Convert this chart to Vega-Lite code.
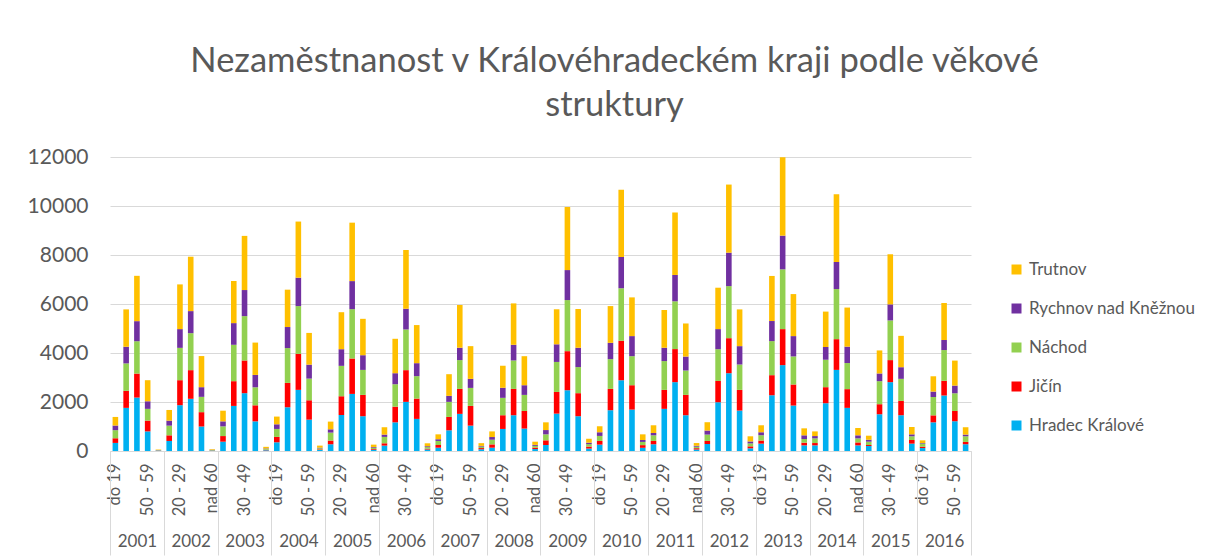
{
  "$schema": "https://vega.github.io/schema/vega-lite/v6.json",
  "autosize": "none",
  "width": 861,
  "height": 294,
  "padding": {"left": 110, "top": 157, "right": 235, "bottom": 107},
  "background": "white",
  "title": {
    "text": ["Nezaměstnanost v Královéhradeckém kraji podle věkové", "struktury"],
    "font": "Lato",
    "fontSize": 34.5,
    "fontWeight": "normal",
    "color": "#595959",
    "anchor": "middle",
    "dx": 74,
    "offset": 23,
    "lineHeight": 44
  },
  "config": {
    "font": "Lato",
    "view": {"stroke": null}
  },
  "data": {
    "values": [
      {"year":"2001","age":"do 19","cat":"2001|do 19","Hradec Králové":330,"Jičín":190,"Náchod":330,"Rychnov nad Kněžnou":190,"Trutnov":350},
      {"year":"2001","age":"20 - 29","cat":"2001|20 - 29","Hradec Králové":1760,"Jičín":695,"Náchod":1120,"Rychnov nad Kněžnou":680,"Trutnov":1525},
      {"year":"2001","age":"30 - 49","cat":"2001|30 - 49","Hradec Králové":2180,"Jičín":980,"Náchod":1320,"Rychnov nad Kněžnou":820,"Trutnov":1850},
      {"year":"2001","age":"50 - 59","cat":"2001|50 - 59","Hradec Králové":800,"Jičín":440,"Náchod":480,"Rychnov nad Kněžnou":310,"Trutnov":860},
      {"year":"2001","age":"nad 60","cat":"2001|nad 60","Hradec Králové":15,"Jičín":8,"Náchod":12,"Rychnov nad Kněžnou":5,"Trutnov":20},
      {"year":"2002","age":"do 19","cat":"2002|do 19","Hradec Králové":410,"Jičín":230,"Náchod":395,"Rychnov nad Kněžnou":205,"Trutnov":435},
      {"year":"2002","age":"20 - 29","cat":"2002|20 - 29","Hradec Králové":1870,"Jičín":1020,"Náchod":1320,"Rychnov nad Kněžnou":765,"Trutnov":1825},
      {"year":"2002","age":"30 - 49","cat":"2002|30 - 49","Hradec Králové":2130,"Jičín":1170,"Náchod":1510,"Rychnov nad Kněžnou":900,"Trutnov":2220},
      {"year":"2002","age":"50 - 59","cat":"2002|50 - 59","Hradec Králové":1000,"Jičín":585,"Náchod":625,"Rychnov nad Kněžnou":395,"Trutnov":1270},
      {"year":"2002","age":"nad 60","cat":"2002|nad 60","Hradec Králové":18,"Jičín":10,"Náchod":15,"Rychnov nad Kněžnou":7,"Trutnov":25},
      {"year":"2003","age":"do 19","cat":"2003|do 19","Hradec Králové":380,"Jičín":230,"Náchod":395,"Rychnov nad Kněžnou":205,"Trutnov":435},
      {"year":"2003","age":"20 - 29","cat":"2003|20 - 29","Hradec Králové":1840,"Jičín":1010,"Náchod":1485,"Rychnov nad Kněžnou":885,"Trutnov":1720},
      {"year":"2003","age":"30 - 49","cat":"2003|30 - 49","Hradec Králové":2360,"Jičín":1335,"Náchod":1810,"Rychnov nad Kněžnou":1065,"Trutnov":2210},
      {"year":"2003","age":"50 - 59","cat":"2003|50 - 59","Hradec Králové":1210,"Jičín":655,"Náchod":735,"Rychnov nad Kněžnou":505,"Trutnov":1320},
      {"year":"2003","age":"nad 60","cat":"2003|nad 60","Hradec Králové":30,"Jičín":20,"Náchod":35,"Rychnov nad Kněžnou":20,"Trutnov":65},
      {"year":"2004","age":"do 19","cat":"2004|do 19","Hradec Králové":355,"Jičín":220,"Náchod":325,"Rychnov nad Kněžnou":190,"Trutnov":315},
      {"year":"2004","age":"20 - 29","cat":"2004|20 - 29","Hradec Králové":1785,"Jičín":995,"Náchod":1420,"Rychnov nad Kněžnou":860,"Trutnov":1525},
      {"year":"2004","age":"30 - 49","cat":"2004|30 - 49","Hradec Králové":2495,"Jičín":1470,"Náchod":1950,"Rychnov nad Kněžnou":1160,"Trutnov":2290},
      {"year":"2004","age":"50 - 59","cat":"2004|50 - 59","Hradec Králové":1280,"Jičín":790,"Náchod":885,"Rychnov nad Kněžnou":570,"Trutnov":1295},
      {"year":"2004","age":"nad 60","cat":"2004|nad 60","Hradec Králové":40,"Jičín":25,"Náchod":45,"Rychnov nad Kněžnou":25,"Trutnov":85},
      {"year":"2005","age":"do 19","cat":"2005|do 19","Hradec Králové":275,"Jičín":150,"Náchod":325,"Rychnov nad Kněžnou":135,"Trutnov":315},
      {"year":"2005","age":"20 - 29","cat":"2005|20 - 29","Hradec Králové":1470,"Jičín":765,"Náchod":1240,"Rychnov nad Kněžnou":680,"Trutnov":1510},
      {"year":"2005","age":"30 - 49","cat":"2005|30 - 49","Hradec Králové":2330,"Jičín":1445,"Náchod":2015,"Rychnov nad Kněžnou":1145,"Trutnov":2385},
      {"year":"2005","age":"50 - 59","cat":"2005|50 - 59","Hradec Králové":1420,"Jičín":870,"Náchod":1020,"Rychnov nad Kněžnou":600,"Trutnov":1485},
      {"year":"2005","age":"nad 60","cat":"2005|nad 60","Hradec Králové":50,"Jičín":30,"Náchod":55,"Rychnov nad Kněžnou":30,"Trutnov":95},
      {"year":"2006","age":"do 19","cat":"2006|do 19","Hradec Králové":220,"Jičín":95,"Náchod":260,"Rychnov nad Kněžnou":95,"Trutnov":300},
      {"year":"2006","age":"20 - 29","cat":"2006|20 - 29","Hradec Králové":1170,"Jičín":640,"Náchod":915,"Rychnov nad Kněžnou":450,"Trutnov":1405},
      {"year":"2006","age":"30 - 49","cat":"2006|30 - 49","Hradec Králové":2005,"Jičín":1295,"Náchod":1660,"Rychnov nad Kněžnou":845,"Trutnov":2400},
      {"year":"2006","age":"50 - 59","cat":"2006|50 - 59","Hradec Králové":1310,"Jičín":830,"Náchod":915,"Rychnov nad Kněžnou":530,"Trutnov":1555},
      {"year":"2006","age":"nad 60","cat":"2006|nad 60","Hradec Králové":60,"Jičín":35,"Náchod":65,"Rychnov nad Kněžnou":35,"Trutnov":120},
      {"year":"2007","age":"do 19","cat":"2007|do 19","Hradec Králové":135,"Jičín":110,"Náchod":165,"Rychnov nad Kněžnou":70,"Trutnov":200},
      {"year":"2007","age":"20 - 29","cat":"2007|20 - 29","Hradec Králové":845,"Jičín":545,"Náchod":615,"Rychnov nad Kněžnou":245,"Trutnov":885},
      {"year":"2007","age":"30 - 49","cat":"2007|30 - 49","Hradec Králové":1515,"Jičín":1020,"Náchod":1175,"Rychnov nad Kněžnou":505,"Trutnov":1745},
      {"year":"2007","age":"50 - 59","cat":"2007|50 - 59","Hradec Králové":1035,"Jičín":805,"Náchod":735,"Rychnov nad Kněžnou":370,"Trutnov":1335},
      {"year":"2007","age":"nad 60","cat":"2007|nad 60","Hradec Králové":70,"Jičín":50,"Náchod":60,"Rychnov nad Kněžnou":30,"Trutnov":110},
      {"year":"2008","age":"do 19","cat":"2008|do 19","Hradec Králové":135,"Jičín":135,"Náchod":190,"Rychnov nad Kněžnou":110,"Trutnov":230},
      {"year":"2008","age":"20 - 29","cat":"2008|20 - 29","Hradec Králové":900,"Jičín":560,"Náchod":710,"Rychnov nad Kněžnou":410,"Trutnov":900},
      {"year":"2008","age":"30 - 49","cat":"2008|30 - 49","Hradec Králové":1460,"Jičín":1075,"Náchod":1160,"Rychnov nad Kněžnou":640,"Trutnov":1690},
      {"year":"2008","age":"50 - 59","cat":"2008|50 - 59","Hradec Králové":915,"Jičín":720,"Náchod":655,"Rychnov nad Kněžnou":395,"Trutnov":1185},
      {"year":"2008","age":"nad 60","cat":"2008|nad 60","Hradec Králové":80,"Jičín":60,"Náchod":70,"Rychnov nad Kněžnou":40,"Trutnov":130},
      {"year":"2009","age":"do 19","cat":"2009|do 19","Hradec Králové":245,"Jičín":190,"Náchod":245,"Rychnov nad Kněžnou":175,"Trutnov":315},
      {"year":"2009","age":"20 - 29","cat":"2009|20 - 29","Hradec Králové":1525,"Jičín":885,"Náchod":1225,"Rychnov nad Kněžnou":720,"Trutnov":1430},
      {"year":"2009","age":"30 - 49","cat":"2009|30 - 49","Hradec Králové":2480,"Jičín":1595,"Náchod":2085,"Rychnov nad Kněžnou":1225,"Trutnov":2575},
      {"year":"2009","age":"50 - 59","cat":"2009|50 - 59","Hradec Králové":1420,"Jičín":940,"Náchod":1065,"Rychnov nad Kněžnou":790,"Trutnov":1580},
      {"year":"2009","age":"nad 60","cat":"2009|nad 60","Hradec Králové":100,"Jičín":80,"Náchod":100,"Rychnov nad Kněžnou":60,"Trutnov":160},
      {"year":"2010","age":"do 19","cat":"2010|do 19","Hradec Králové":260,"Jičín":150,"Náchod":205,"Rychnov nad Kněžnou":150,"Trutnov":245},
      {"year":"2010","age":"20 - 29","cat":"2010|20 - 29","Hradec Králové":1665,"Jičín":870,"Náchod":1215,"Rychnov nad Kněžnou":665,"Trutnov":1500},
      {"year":"2010","age":"30 - 49","cat":"2010|30 - 49","Hradec Králové":2890,"Jičín":1610,"Náchod":2140,"Rychnov nad Kněžnou":1280,"Trutnov":2740},
      {"year":"2010","age":"50 - 59","cat":"2010|50 - 59","Hradec Králové":1690,"Jičín":995,"Náchod":1185,"Rychnov nad Kněžnou":820,"Trutnov":1580},
      {"year":"2010","age":"nad 60","cat":"2010|nad 60","Hradec Králové":130,"Jičín":110,"Náchod":130,"Rychnov nad Kněžnou":80,"Trutnov":230},
      {"year":"2011","age":"do 19","cat":"2011|do 19","Hradec Králové":275,"Jičín":135,"Náchod":230,"Rychnov nad Kněžnou":95,"Trutnov":315},
      {"year":"2011","age":"20 - 29","cat":"2011|20 - 29","Hradec Králové":1720,"Jičín":775,"Náchod":1175,"Rychnov nad Kněžnou":545,"Trutnov":1540},
      {"year":"2011","age":"30 - 49","cat":"2011|30 - 49","Hradec Králové":2810,"Jičín":1350,"Náchod":1950,"Rychnov nad Kněžnou":1075,"Trutnov":2550},
      {"year":"2011","age":"50 - 59","cat":"2011|50 - 59","Hradec Králové":1460,"Jičín":830,"Náchod":995,"Rychnov nad Kněžnou":570,"Trutnov":1350},
      {"year":"2011","age":"nad 60","cat":"2011|nad 60","Hradec Králové":60,"Jičín":55,"Náchod":60,"Rychnov nad Kněžnou":40,"Trutnov":110},
      {"year":"2012","age":"do 19","cat":"2012|do 19","Hradec Králové":285,"Jičín":125,"Náchod":260,"Rychnov nad Kněžnou":165,"Trutnov":340},
      {"year":"2012","age":"20 - 29","cat":"2012|20 - 29","Hradec Králové":1990,"Jičín":870,"Náchod":1295,"Rychnov nad Kněžnou":820,"Trutnov":1690},
      {"year":"2012","age":"30 - 49","cat":"2012|30 - 49","Hradec Králové":3175,"Jičín":1430,"Náchod":2125,"Rychnov nad Kněžnou":1365,"Trutnov":2780},
      {"year":"2012","age":"50 - 59","cat":"2012|50 - 59","Hradec Králové":1650,"Jičín":845,"Náchod":1035,"Rychnov nad Kněžnou":750,"Trutnov":1500},
      {"year":"2012","age":"nad 60","cat":"2012|nad 60","Hradec Králové":110,"Jičín":80,"Náchod":120,"Rychnov nad Kněžnou":80,"Trutnov":210},
      {"year":"2013","age":"do 19","cat":"2013|do 19","Hradec Králové":300,"Jičín":125,"Náchod":220,"Rychnov nad Kněžnou":120,"Trutnov":285},
      {"year":"2013","age":"20 - 29","cat":"2013|20 - 29","Hradec Králové":2275,"Jičín":820,"Náchod":1390,"Rychnov nad Kněžnou":820,"Trutnov":1840},
      {"year":"2013","age":"30 - 49","cat":"2013|30 - 49","Hradec Králové":3505,"Jičín":1470,"Náchod":2440,"Rychnov nad Kněžnou":1375,"Trutnov":3200},
      {"year":"2013","age":"50 - 59","cat":"2013|50 - 59","Hradec Králové":1855,"Jičín":860,"Náchod":1145,"Rychnov nad Kněžnou":830,"Trutnov":1715},
      {"year":"2013","age":"nad 60","cat":"2013|nad 60","Hradec Králové":230,"Jičín":110,"Náchod":150,"Rychnov nad Kněžnou":150,"Trutnov":285},
      {"year":"2014","age":"do 19","cat":"2014|do 19","Hradec Králové":230,"Jičín":95,"Náchod":190,"Rychnov nad Kněžnou":95,"Trutnov":190},
      {"year":"2014","age":"20 - 29","cat":"2014|20 - 29","Hradec Králové":1950,"Jičín":655,"Náchod":1120,"Rychnov nad Kněžnou":520,"Trutnov":1445},
      {"year":"2014","age":"30 - 49","cat":"2014|30 - 49","Hradec Králové":3310,"Jičín":1255,"Náchod":2045,"Rychnov nad Kněžnou":1105,"Trutnov":2765},
      {"year":"2014","age":"50 - 59","cat":"2014|50 - 59","Hradec Králové":1760,"Jičín":765,"Náchod":1065,"Rychnov nad Kněžnou":670,"Trutnov":1595},
      {"year":"2014","age":"nad 60","cat":"2014|nad 60","Hradec Králové":230,"Jičín":120,"Náchod":165,"Rychnov nad Kněžnou":125,"Trutnov":300},
      {"year":"2015","age":"do 19","cat":"2015|do 19","Hradec Králové":205,"Jičín":40,"Náchod":135,"Rychnov nad Kněžnou":80,"Trutnov":165},
      {"year":"2015","age":"20 - 29","cat":"2015|20 - 29","Hradec Králové":1500,"Jičín":410,"Náchod":940,"Rychnov nad Kněžnou":315,"Trutnov":940},
      {"year":"2015","age":"30 - 49","cat":"2015|30 - 49","Hradec Králové":2810,"Jičín":900,"Náchod":1620,"Rychnov nad Kněžnou":655,"Trutnov":2045},
      {"year":"2015","age":"50 - 59","cat":"2015|50 - 59","Hradec Králové":1460,"Jičín":585,"Náchod":900,"Rychnov nad Kněžnou":475,"Trutnov":1280},
      {"year":"2015","age":"nad 60","cat":"2015|nad 60","Hradec Králové":300,"Jičín":150,"Náchod":150,"Rychnov nad Kněžnou":80,"Trutnov":300},
      {"year":"2016","age":"do 19","cat":"2016|do 19","Hradec Králové":120,"Jičín":55,"Náchod":125,"Rychnov nad Kněžnou":25,"Trutnov":110},
      {"year":"2016","age":"20 - 29","cat":"2016|20 - 29","Hradec Králové":1170,"Jičín":285,"Náchod":750,"Rychnov nad Kněžnou":220,"Trutnov":625},
      {"year":"2016","age":"30 - 49","cat":"2016|30 - 49","Hradec Králové":2265,"Jičín":600,"Náchod":1255,"Rychnov nad Kněžnou":410,"Trutnov":1510},
      {"year":"2016","age":"50 - 59","cat":"2016|50 - 59","Hradec Králové":1215,"Jičín":420,"Náchod":720,"Rychnov nad Kněžnou":315,"Trutnov":1020},
      {"year":"2016","age":"nad 60","cat":"2016|nad 60","Hradec Králové":275,"Jičín":95,"Náchod":230,"Rychnov nad Kněžnou":70,"Trutnov":300}
    ]
  },
  "transform": [
    {"fold": ["Hradec Králové", "Jičín", "Náchod", "Rychnov nad Kněžnou", "Trutnov"], "as": ["district", "value"]}
  ],
  "layer": [
    {
      "mark": {"type": "bar", "width": {"band": 0.52}},
      "encoding": {
        "x": {
          "field": "cat",
          "type": "nominal",
          "sort": null,
          "scale": {"paddingInner": 0, "paddingOuter": 0},
          "axis": {
            "title": null,
            "orient": "bottom",
            "domain": true,
            "domainColor": "#d9d9d9",
            "domainWidth": 1,
            "ticks": false,
            "grid": false,
            "labelAngle": -90,
            "labelFont": "Lato",
            "labelFontSize": 16.5,
            "labelColor": "#595959",
            "labelPadding": 12,
            "labelOverlap": false,
            "labelExpr": "((toNumber(slice(datum.value,0,4))-2001)*5 + indexof(['do 19','20 - 29','30 - 49','50 - 59','nad 60'], slice(datum.value,5))) % 3 == 0 ? slice(datum.value,5) : ''"
          }
        },
        "y": {
          "field": "value",
          "type": "quantitative",
          "stack": "zero",
          "scale": {"domain": [0, 12000], "nice": false},
          "axis": {
            "title": null,
            "values": [0, 2000, 4000, 6000, 8000, 10000, 12000],
            "format": "d",
            "domain": false,
            "ticks": false,
            "grid": true,
            "gridColor": "#d9d9d9",
            "gridWidth": 1,
            "labelFont": "Lato",
            "labelFontSize": 21,
            "labelColor": "#595959",
            "labelPadding": 22
          }
        },
        "color": {
          "field": "district",
          "type": "nominal",
          "scale": {
            "domain": ["Trutnov", "Rychnov nad Kněžnou", "Náchod", "Jičín", "Hradec Králové"],
            "range": ["#FFC000", "#7030A0", "#92D050", "#FF0000", "#00B0F0"]
          },
          "legend": {
            "orient": "none",
            "legendX": 898,
            "legendY": 104,
            "title": null,
            "padding": 0,
            "symbolType": "square",
            "symbolSize": 100,
            "symbolStrokeWidth": 0,
            "labelFont": "Lato",
            "labelFontSize": 17,
            "labelColor": "#595959",
            "labelOffset": 4,
            "labelLimit": 0,
            "rowPadding": 21
          }
        },
        "order": {"field": "district", "sort": "ascending"}
      }
    },
    {
      "mark": {"type": "bar", "opacity": 0},
      "encoding": {
        "x": {
          "field": "cat",
          "type": "nominal",
          "sort": null,
          "axis": {
            "title": null,
            "orient": "bottom",
            "domain": false,
            "grid": false,
            "ticks": true,
            "tickBand": "extent",
            "tickSize": 104,
            "tickColor": "#d9d9d9",
            "tickWidth": 1,
            "tickOpacity": {"condition": {"test": "datum.extra || slice(datum.value,5) == 'nad 60'", "value": 1}, "value": 0},
            "labelAngle": 0,
            "labelFont": "Lato",
            "labelFontSize": 17,
            "labelColor": "#595959",
            "labelPadding": -14,
            "labelBaseline": "middle",
            "labelOverlap": false,
            "labelExpr": "datum.extra ? '' : (slice(datum.value,5) == '30 - 49' ? slice(datum.value,0,4) : '')"
          }
        }
      }
    }
  ],
  "resolve": {"axis": {"x": "independent"}}
}
